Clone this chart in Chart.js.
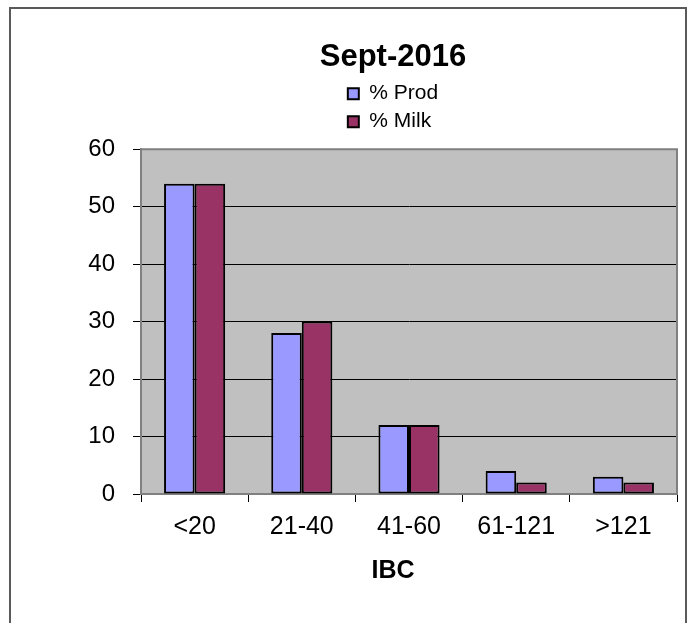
<!DOCTYPE html>
<html>
<head>
<meta charset="utf-8">
<script src="https://cdn.jsdelivr.net/npm/chart.js@4/dist/chart.umd.min.js"></script>
<style>
  html, body { margin: 0; padding: 0; background: #ffffff; overflow: hidden; width: 690px; height: 623px; }
  #frame { position: absolute; left: 9px; top: 7px; width: 674px; height: 660px; border: 2px solid #5a5a5a; box-sizing: content-box; }
  #c { position: absolute; left: 0; top: 0; }
</style>
</head>
<body>
<div id="frame"></div>
<canvas id="c" width="706" height="623"></canvas>
<script>
// ---- data ----
const chartTitle = 'Sept-2016';
const xAxisTitle = 'IBC';
const categories = ['<20', '21-40', '41-60', '61-121', '>121'];
const seriesNames = ['% Prod', '% Milk'];
const prodValues = [54, 28, 12, 4, 3];
const milkValues = [54, 30, 12, 2, 2];
const yMin = 0, yMax = 60, yStep = 10;

Chart.defaults.font.family = "'Liberation Sans', Arial, sans-serif";
Chart.defaults.color = '#000';

// plot area background + frame
const plotArea = {
  id: 'plotArea',
  beforeDraw(chart) {
    const {ctx, chartArea: a} = chart;
    ctx.save();
    ctx.fillStyle = '#C0C0C0';
    ctx.fillRect(a.left, a.top, a.right - a.left, a.bottom - a.top);
    ctx.restore();
  },
  beforeDatasetsDraw(chart) {
    const {ctx, chartArea: a} = chart;
    ctx.save();
    ctx.strokeStyle = '#808080';
    ctx.lineWidth = 2;
    ctx.beginPath();
    ctx.moveTo(a.left, a.top);
    ctx.lineTo(a.right, a.top);
    ctx.lineTo(a.right, a.bottom);
    ctx.stroke();
    ctx.restore();
  }
};

// stack legend items vertically (one per row), left-aligned block centred
const stackedLegend = {
  id: 'stackedLegend',
  beforeLayout(chart) {
    const lg = chart.legend;
    if (!lg || lg.__stacked) return;
    lg.__stacked = true;
    const fitRows = lg._fitRows;
    lg._fitRows = function (...args) {
      const mw = this.maxWidth;
      this.maxWidth = 0;
      try { return fitRows.apply(this, args); } finally { this.maxWidth = mw; }
    };
    const drawItems = lg._draw;
    lg._draw = function () {
      const l = this.left, r = this.right;
      const pad = this.options.labels.padding;
      const w = Math.max(...this.lineWidths) - pad;
      const start = (l + r) / 2 - w / 2;
      this.left = start - pad;
      this.right = start - pad;
      try { drawItems.call(this); } finally { this.left = l; this.right = r; }
    };
  }
};

new Chart(document.getElementById('c'), {
  type: 'bar',
  data: {
    labels: categories,
    datasets: [
      { label: seriesNames[0], data: prodValues, backgroundColor: '#9999FF', borderColor: '#000', borderWidth: 2, borderSkipped: false },
      { label: seriesNames[1], data: milkValues, backgroundColor: '#993366', borderColor: '#000', borderWidth: 2, borderSkipped: false }
    ]
  },
  options: {
    responsive: false,
    animation: false,
    devicePixelRatio: 1,
    categoryPercentage: 0.57,
    barPercentage: 1.0,
    layout: { padding: { left: 80, right: 0, top: 0, bottom: 37 } },
    plugins: {
      title: {
        display: true, text: chartTitle, color: '#000',
        font: { size: 31, weight: 'bold' },
        padding: { top: 39, bottom: 0 }
      },
      subtitle: {
        display: true, text: xAxisTitle, position: 'bottom', color: '#000',
        font: { size: 25, weight: 'bold' },
        padding: { top: 4, bottom: 0 }
      },
      legend: {
        display: true, position: 'top', align: 'start',
        labels: { boxWidth: 11, boxHeight: 11, padding: 7, color: '#000', font: { size: 21 } }
      },
      tooltip: { enabled: false }
    },
    scales: {
      x: {
        type: 'category',
        offset: true,
        grid: { display: true, drawOnChartArea: false, drawTicks: true, tickLength: 8, color: '#000', offset: true },
        border: { display: true, color: '#808080', width: 2 },
        ticks: { color: '#000', font: { size: 25 }, padding: 10, maxRotation: 0, autoSkip: false }
      },
      xTop: {
        type: 'category', axis: 'x', position: 'top', display: true,
        grid: { display: false, drawTicks: false },
        border: { display: false },
        ticks: { display: false },
        afterFit(s) { s.height = 7; }
      },
      y: {
        min: yMin, max: yMax,
        grid: { color: '#000', lineWidth: 1, tickLength: 8, drawTicks: true },
        border: { display: true, color: '#808080', width: 2 },
        ticks: { stepSize: yStep, color: '#000', font: { size: 24 }, padding: 18 },
        afterFit(s) { s.width = 61; }
      },
      yRight: {
        type: 'linear', axis: 'y', position: 'right', display: true,
        grid: { display: false, drawTicks: false },
        border: { display: false },
        ticks: { display: false },
        afterFit(s) { s.width = 29; }
      }
    }
  },
  plugins: [plotArea, stackedLegend]
});
</script>
</body>
</html>
